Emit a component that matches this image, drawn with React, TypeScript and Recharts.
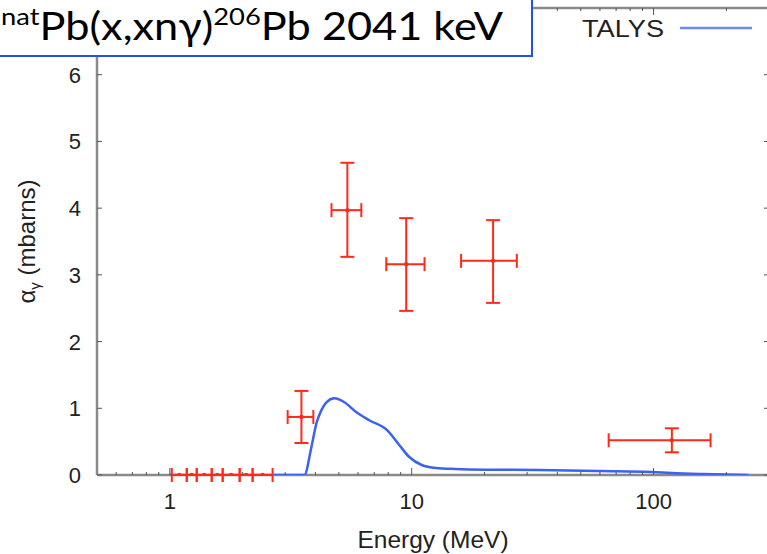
import React from 'react';
import { ComposedChart, Line, Scatter, ErrorBar, XAxis, YAxis, Legend } from 'recharts';

// TALYS calculation
const talysEnergy = [1, 2, 3, 3.6, 3.85, 4.04, 4.23, 4.44, 4.79, 5.27, 5.91, 6.68, 7.93, 8.88, 9.77, 11.0, 12.6, 15.2, 20, 33.6, 61, 98, 119, 160, 247];
const talysSigma = [0, 0, 0, 0, 0.42, 0.78, 0.97, 1.09, 1.15, 1.09, 0.94, 0.82, 0.67, 0.45, 0.27, 0.15, 0.105, 0.09, 0.08, 0.075, 0.06, 0.045, 0.03, 0.015, 0];

// measured points with x (energy bin) and y error bars
const expEnergy = [1.094, 1.232, 1.387, 1.57, 1.793, 2.068, 2.419, 3.5, 5.42, 9.49, 21.7, 119];
const expELow = [1.019, 1.175, 1.292, 1.49, 1.654, 1.944, 2.199, 3.07, 4.66, 7.85, 16.0, 65.2];
const expEHigh = [1.175, 1.292, 1.49, 1.654, 1.944, 2.199, 2.66, 3.92, 6.19, 11.3, 27.2, 172];
const expSigma = [0, 0, 0, 0, 0, 0, 0, 0.87, 3.97, 3.16, 3.21, 0.52];
const expSLow = [0, 0, 0, 0, 0, 0, 0, 0.48, 3.27, 2.46, 2.58, 0.34];
const expSHigh = [0, 0, 0, 0, 0, 0, 0, 1.26, 4.68, 3.85, 3.82, 0.7];

const majorX = [1, 10, 100];
const minorX = [0.6, 0.7, 0.8, 0.9, 2, 3, 4, 5, 6, 7, 8, 9, 20, 30, 40, 50, 60, 70, 80, 90, 200, 300];
const yTicks = [0, 1, 2, 3, 4, 5, 6];

const talysData = talysEnergy.map((x, i) => ({ x, y: talysSigma[i] }));
const expData = expEnergy.map((x, i) => ({
  x,
  y: expSigma[i],
  ex: [x - expELow[i], expEHigh[i] - x],
  ey: [expSigma[i] - expSLow[i], expSHigh[i] - expSigma[i]],
}));

const AXIS = '#8a8a8a';
const RED = '#ff2a1a';
const BLUE = '#3b62f2';
const FONT = '"Liberation Sans", Arial, sans-serif';

const BottomTick = (props: any) => {
  const { x, y, payload } = props;
  const major = majorX.includes(payload.value);
  return (
    <g>
      <line x1={x} x2={x} y1={y} y2={y - (major ? 7 : 3)} stroke="#555" strokeWidth={1} />
      {major && (
        <text x={x} y={y + 34} textAnchor="middle" fontSize={22} fill="#222" fontFamily={FONT}>
          {payload.value}
        </text>
      )}
    </g>
  );
};

const TopTick = (props: any) => {
  const { x, y, payload } = props;
  const major = majorX.includes(payload.value);
  return <line x1={x} x2={x} y1={y} y2={y + (major ? 7 : 3)} stroke="#555" strokeWidth={1} />;
};

const LeftTick = (props: any) => {
  const { x, y, payload } = props;
  return (
    <g>
      <line x1={x} x2={x + 5} y1={y} y2={y} stroke="#555" strokeWidth={1} />
      <text x={x - 16} y={y + 8} textAnchor="end" fontSize={22} fill="#222" fontFamily={FONT}>
        {payload.value}
      </text>
    </g>
  );
};

const RightTick = (props: any) => {
  const { x, y } = props;
  return <line x1={x} x2={x - 5} y1={y} y2={y} stroke="#555" strokeWidth={1} />;
};

const YLabel = (props: any) => {
  const vb = props.viewBox;
  const cx = vb.x + 35;
  const cy = vb.y + vb.height / 2;
  return (
    <text transform={`translate(${cx},${cy}) rotate(-90)`} textAnchor="middle" fontSize={24} fill="#222" fontFamily={FONT}>
      α<tspan fontSize={15} dy={5}>γ</tspan>
      <tspan dy={-5}> (mbarns)</tspan>
    </text>
  );
};

const XLabel = (props: any) => {
  const vb = props.viewBox;
  return (
    <text x={vb.x + vb.width / 2} y={548} textAnchor="middle" fontSize={24.5} fill="#222" fontFamily={FONT}>
      Energy (MeV)
    </text>
  );
};

const Dot = (props: any) => <circle cx={props.cx} cy={props.cy} r={2.2} fill={RED} />;

const LegendBox = (props: any) => {
  const items = (props.payload || []).filter((p: any) => p.value === 'TALYS');
  return (
    <svg width={200} height={34}>
      {items.map((p: any) => (
        <g key={p.value}>
          <text x={22} y={26} fontSize={24} fill="#222" fontFamily={FONT} textLength={82} lengthAdjust="spacingAndGlyphs">
            {p.value}
          </text>
          <line x1={120} x2={192} y1={17} y2={17} stroke={BLUE} strokeWidth={2.5} opacity={0.75} />
        </g>
      ))}
    </svg>
  );
};

export default function App() {
  return (
    <div style={{ position: 'absolute', left: 0, top: 0, width: 767, height: 554, overflow: 'hidden', background: '#fff' }}>
      <ComposedChart width={770} height={554} margin={{ top: 7, right: 0, bottom: 0, left: 0 }}>
        <Line
          name="TALYS"
          data={talysData}
          dataKey="y"
          type="monotone"
          stroke={BLUE}
          strokeWidth={2.5}
          dot={false}
          isAnimationActive={false}
          {...({ zIndex: 600 } as any)}
        />
        <Scatter
          name="data"
          legendType="none"
          data={expData}
          dataKey="y"
          fill={RED}
          shape={<Dot />}
          isAnimationActive={false}
          {...({ zIndex: 700 } as any)}
        >
          <ErrorBar dataKey="ex" direction="x" width={7} stroke={RED} strokeWidth={2} {...({ zIndex: 700 } as any)} />
          <ErrorBar dataKey="ey" direction="y" width={7} stroke={RED} strokeWidth={2} {...({ zIndex: 700 } as any)} />
        </Scatter>
        <XAxis
          dataKey="x"
          type="number"
          scale="log"
          domain={[0.5, 300]}
          allowDataOverflow
          ticks={[...minorX, ...majorX]}
          interval={0}
          height={79}
          tickSize={0}
          tickMargin={0}
          tickLine={false}
          tick={<BottomTick />}
          axisLine={{ stroke: AXIS, strokeWidth: 2.5 }}
          label={<XLabel />}
        />
        <XAxis
          xAxisId="top"
          orientation="top"
          dataKey="x"
          type="number"
          scale="log"
          domain={[0.5, 300]}
          allowDataOverflow
          ticks={[...minorX, ...majorX]}
          interval={0}
          height={1}
          tickSize={0}
          tickMargin={0}
          tickLine={false}
          tick={<TopTick />}
          axisLine={{ stroke: AXIS, strokeWidth: 2.5 }}
        />
        <YAxis
          type="number"
          domain={[0, 7]}
          allowDataOverflow
          ticks={yTicks}
          interval={0}
          width={97}
          tickSize={0}
          tickMargin={0}
          tickLine={false}
          tick={<LeftTick />}
          axisLine={{ stroke: AXIS, strokeWidth: 2.5 }}
          label={<YLabel />}
        />
        <YAxis
          yAxisId="right"
          orientation="right"
          type="number"
          domain={[0, 7]}
          allowDataOverflow
          ticks={yTicks}
          interval={0}
          width={1}
          tickSize={0}
          tickMargin={0}
          tickLine={false}
          tick={<RightTick />}
          axisLine={{ stroke: AXIS, strokeWidth: 2.5 }}
        />
        <Legend
          layout="horizontal"
          verticalAlign="middle"
          align="center"
          wrapperStyle={{ left: 560, top: 11, width: 200 }}
          content={<LegendBox />}
        />
      </ComposedChart>
      <svg width={540} height={60} style={{ position: 'absolute', left: 0, top: 0 }}>
        <rect x={-2} y={-2} width={534} height={58} fill="#fff" stroke="#2050ee" strokeWidth={2} />
        <text y={40} fontFamily='Lato, "Open Sans", sans-serif' fill="#000" textLength={502} lengthAdjust="spacingAndGlyphs" x={1}>
          <tspan fontSize={24} y={25}>nat</tspan>
          <tspan fontSize={38} y={40}>Pb(x,xnγ)</tspan>
          <tspan fontSize={24} y={25}>206</tspan>
          <tspan fontSize={38} y={40}>Pb 2041 keV</tspan>
        </text>
      </svg>
    </div>
  );
}
